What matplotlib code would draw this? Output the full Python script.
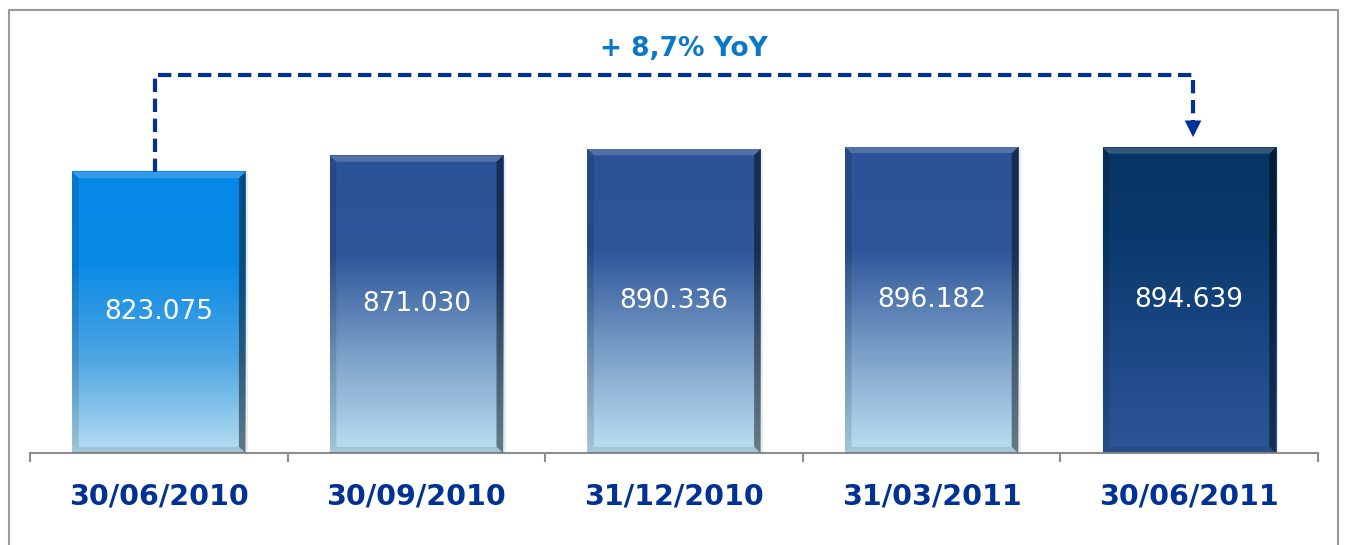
import numpy as np
import matplotlib
matplotlib.use("Agg")
import matplotlib.pyplot as plt
from matplotlib.colors import LinearSegmentedColormap
from matplotlib.patches import Rectangle, Polygon

dates = ['30/06/2010', '30/09/2010', '31/12/2010', '31/03/2011', '30/06/2011']
values = [823.075, 871.030, 890.336, 896.182, 894.639]
labels = ['823.075', '871.030', '890.336', '896.182', '894.639']
growth = '+ 8,7% YoY'

# gradient colours (top -> bottom) for each bar
grads = [['#0688e8', '#0a8ae6', '#4ea6e2', '#b7def2'],
         ['#2c5297', '#2e5699', '#7a9fc8', '#bbe0f2'],
         ['#2c5297', '#2e5699', '#7a9fc8', '#bbe0f2'],
         ['#2c5297', '#2e5699', '#7a9fc8', '#bbe0f2'],
         ['#063462', '#0a3a6e', '#1d4886', '#2d5699']]

fig = plt.figure(figsize=(13.45, 5.45), dpi=100)
ax = fig.add_axes([30/1345, 92/545, 1288/1345, 423/545])

W = 0.672
x = np.arange(len(values))
for i, v in enumerate(values):
    cmap = LinearSegmentedColormap.from_list('g%d' % i, grads[i])
    grad = np.linspace(0, 1, 256).reshape(-1, 1)
    l, r = x[i] - W/2, x[i] + W/2
    # soft shadow
    ax.add_patch(Rectangle((l + 0.01, -6), W, v, color='#000000', alpha=0.08, lw=0, zorder=1))
    ax.imshow(grad, cmap=cmap, extent=[l, r, 0, v], aspect='auto', origin='upper', zorder=2)
    # bevel: lighter top, darker right edge
    b = 0.025
    bh = 18
    ax.add_patch(Polygon([[l, v], [r, v], [r - b, v - bh], [l + b, v - bh]],
                         closed=True, color='white', alpha=0.18, lw=0, zorder=3))
    ax.add_patch(Polygon([[r, v], [r, 0], [r - b, bh], [r - b, v - bh]],
                         closed=True, color='#000000', alpha=0.45, lw=0, zorder=3))
    ax.add_patch(Polygon([[l, v], [l, 0], [l + b, bh], [l + b, v - bh]],
                         closed=True, color='#000000', alpha=0.12, lw=0, zorder=3))
    ax.add_patch(Polygon([[l, 0], [r, 0], [r - b, bh], [l + b, bh]],
                         closed=True, color='#000000', alpha=0.10, lw=0, zorder=3))
    ax.text(x[i], v / 2, labels[i], ha='center', va='center', color='white',
            fontsize=19, zorder=4)

ax.set_xlim(-0.5, 4.5)
ax.set_ylim(0, 1239)

for s in ['top', 'right', 'left']:
    ax.spines[s].set_visible(False)
ax.spines['bottom'].set_color('#8c8c8c')
ax.spines['bottom'].set_linewidth(1.5)
ax.set_yticks([])
ax.set_xticks(x)
ax.set_xticklabels(dates, fontsize=20.5, fontweight='bold', color='#003194')
ax.tick_params(axis='x', which='major', length=0, pad=21)
ax.set_xticks(np.arange(-0.5, 5, 1), minor=True)
ax.tick_params(axis='x', which='minor', length=6.5, width=1.5, color='#8c8c8c', direction='out')

# YoY annotation
dc = '#00309a'
top_y = 1107
ax.plot([x[0] - 0.015, x[0] - 0.015, x[4] + 0.015, x[4] + 0.015],
        [values[0], top_y, top_y, 955], color=dc, lw=3, ls=(0, (3.2, 1.6)),
        zorder=5, solid_capstyle='butt')
ax.annotate('', xy=(x[4] + 0.015, 917), xytext=(x[4] + 0.015, 962),
            arrowprops=dict(arrowstyle='-|>,head_width=0.6,head_length=1.2', color=dc, lw=0),
            zorder=5)
ax.text(2.04, 1183, growth, ha='center', va='center', fontsize=19,
        fontweight='bold', color='#0a78c8')

# outer border
fig.add_artist(Rectangle((9/1345, -0.05), 1329/1345, 1.05 - 10/545,
                         transform=fig.transFigure, fill=False,
                         edgecolor='#9a9a9a', lw=1.5))

fig.savefig('out.png', dpi=100)
